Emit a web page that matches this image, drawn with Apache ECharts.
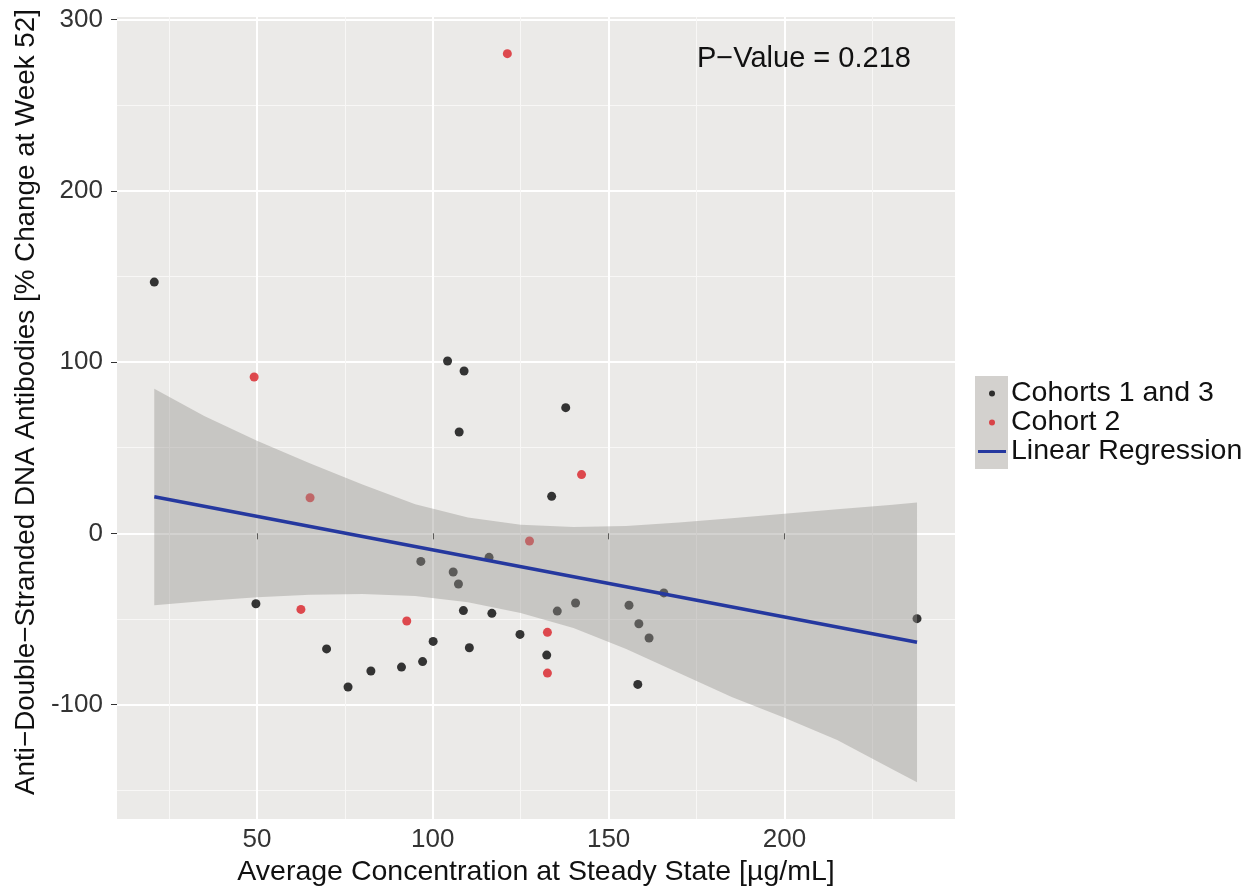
<!DOCTYPE html>
<html><head><meta charset="utf-8">
<script src="https://cdn.jsdelivr.net/npm/echarts@6/dist/echarts.min.js"></script>
<style>html,body{margin:0;padding:0;background:#fff}#c{width:1253px;height:888px}</style>
</head><body><div id="c"></div>
<script>
const cohort13X = [20.8, 104.2, 108.9, 107.5, 137.8, 133.8, 96.6, 105.8, 107.3, 116.0, 49.7, 108.7, 116.8, 124.8, 132.4, 69.8, 100.1, 110.4, 97.1, 91.1, 82.4, 75.9, 135.4, 140.6, 155.8, 158.6, 161.5, 158.3, 237.7, 165.7];
const cohort13Y = [146.7, 100.6, 94.8, 59.2, 73.4, 21.6, -16.4, -22.6, -29.6, -14.0, -41.1, -45.1, -46.7, -59.0, -71.1, -67.5, -63.1, -66.8, -74.9, -78.1, -80.4, -89.7, -45.4, -40.7, -42.0, -52.8, -61.1, -88.2, -49.8, -34.8];
const cohort2X = [121.2, 49.2, 65.1, 127.5, 142.3, 62.5, 92.6, 132.6, 132.6];
const cohort2Y = [280.1, 91.3, 20.8, -4.5, 34.3, -44.4, -51.2, -57.8, -81.6];
const fitX = [20.8, 237.7];
const fitY = [21.4, -63.6];
const bandX = [20.8, 35, 50, 65, 80, 95, 110, 125, 140, 155, 170, 185, 200, 215, 230, 237.7];
const bandUpper = [84.5, 68.5, 54, 41, 28.5, 17, 9.2, 5, 3.7, 4.3, 6.3, 8.8, 11.4, 14, 16.6, 18];
const bandLower = [-42, -39.5, -37.3, -35.8, -35.4, -36.6, -40.2, -46.5, -55.2, -67.5, -81.5, -95.5, -107.7, -120.6, -137, -145.4];
const xMajorTicks = [50, 100, 150, 200];
const xMinorTicks = [25, 75, 125, 175, 225];
const yMajorTicks = [-100, 0, 100, 200, 300];
const yMinorTicks = [-150, -50, 50, 150, 250];
const xTitle = 'Average Concentration at Steady State [µg/mL]';
const yTitle = 'Anti\u2212Double\u2212Stranded DNA Antibodies [% Change at Week 52]';
const pValueText = 'P\u2212Value = 0.218';
const seriesNames = ['Cohorts 1 and 3', 'Cohort 2', 'Linear Regression'];

const FONT = "'Liberation Sans', Arial, sans-serif";
const X_MIN = 10.2, X_MAX = 248.5, Y_MIN = -166.8, Y_MAX = 301.5;
const zip = (a, b) => a.map((v, i) => [v, b[i]]);

const chart = echarts.init(document.getElementById('c'), null, {renderer: 'canvas'});
const hiddenAxisParts = {axisLine: {show: false}, axisLabel: {show: false}};
chart.setOption({
  animation: false,
  backgroundColor: '#ffffff',
  textStyle: {fontFamily: FONT},
  grid: {left: 117, right: 298, top: 17, bottom: 69, show: true, backgroundColor: '#EBEAE8', borderWidth: 0,
    containLabel: false, outerBoundsMode: 'none'},
  title: {text: pValueText, left: 697, top: 44, padding: 0,
    textStyle: {fontSize: 29, fontWeight: 'normal', color: '#111', fontFamily: FONT}},
  legend: {
    orient: 'vertical', left: 978, top: 379, padding: 0, itemWidth: 28, itemHeight: 6, itemGap: 0, z: 5,
    textStyle: {fontSize: 28.5, lineHeight: 29, color: '#111', fontFamily: FONT},
    data: [{name: seriesNames[0], icon: 'circle'}, {name: seriesNames[1], icon: 'circle'},
      {name: seriesNames[2], icon: 'path://M0,0 L28,0 L28,3 L0,3 Z'}]
  },
  graphic: [{type: 'rect', left: 975, top: 376, z: 1, shape: {width: 33, height: 93}, style: {fill: '#D3D1CE'}}],
  xAxis: [
    {type: 'value', min: X_MIN, max: X_MAX, position: 'bottom',
      axisLine: {show: false},
      axisTick: {show: true, customValues: xMajorTicks, length: 6, lineStyle: {color: '#333', width: 1}},
      axisLabel: {customValues: xMajorTicks, fontSize: 26, color: '#333', margin: 8, fontFamily: FONT},
      splitLine: {show: true, lineStyle: {color: '#FFFFFF', width: 2}},
      name: xTitle, nameLocation: 'middle', nameGap: 28,
      nameTextStyle: {fontSize: 28.5, color: '#111', fontFamily: FONT}},
    Object.assign({type: 'value', min: X_MIN, max: X_MAX, position: 'bottom',
      axisTick: {show: false, customValues: xMinorTicks},
      splitLine: {show: true, lineStyle: {color: '#F8F7F6', width: 1}}}, hiddenAxisParts)
  ],
  yAxis: [
    {type: 'value', min: Y_MIN, max: Y_MAX, position: 'left',
      axisLine: {show: false},
      axisTick: {show: true, customValues: yMajorTicks, length: 6, lineStyle: {color: '#333', width: 1}},
      axisLabel: {customValues: yMajorTicks, fontSize: 26, color: '#333', margin: 14, fontFamily: FONT},
      splitLine: {show: true, lineStyle: {color: '#FFFFFF', width: 2}},
      name: yTitle, nameLocation: 'middle', nameRotate: 90, nameGap: 76,
      nameTextStyle: {fontSize: 27.8, color: '#111', fontFamily: FONT, padding: [0, 0, 0, 32]}},
    Object.assign({type: 'value', min: Y_MIN, max: Y_MAX, position: 'left',
      axisTick: {show: false, customValues: yMinorTicks},
      splitLine: {show: true, lineStyle: {color: '#F8F7F6', width: 1}}}, hiddenAxisParts)
  ],
  series: [
    {name: seriesNames[0], type: 'scatter', data: zip(cohort13X, cohort13Y), symbol: 'circle', symbolSize: 9,
      itemStyle: {color: '#050505'}, z: 2, silent: true},
    {name: seriesNames[1], type: 'scatter', data: zip(cohort2X, cohort2Y), symbol: 'circle', symbolSize: 9,
      itemStyle: {color: '#DA1F26'}, z: 2, silent: true},
    {name: 'band', type: 'custom', z: 3, silent: true,
      data: bandX.map((x, i) => [x, bandUpper[i], bandLower[i]]),
      encode: {x: 0, y: [1, 2]},
      renderItem: function (params, api) {
        if (params.dataIndex !== 0) return {type: 'group', children: []};
        const pts = [];
        for (let i = 0; i < bandX.length; i++) pts.push(api.coord([bandX[i], bandUpper[i]]));
        for (let i = bandX.length - 1; i >= 0; i--) pts.push(api.coord([bandX[i], bandLower[i]]));
        return {type: 'polygon', shape: {points: pts}, style: {fill: 'rgba(150,147,144,0.42)'}};
      }},
    {name: seriesNames[2], type: 'line', data: zip(fitX, fitY), symbol: 'none', showSymbol: false,
      lineStyle: {color: '#25389F', width: 3.5}, itemStyle: {color: '#25389F'}, z: 4, silent: true}
  ]
});
</script></body></html>
